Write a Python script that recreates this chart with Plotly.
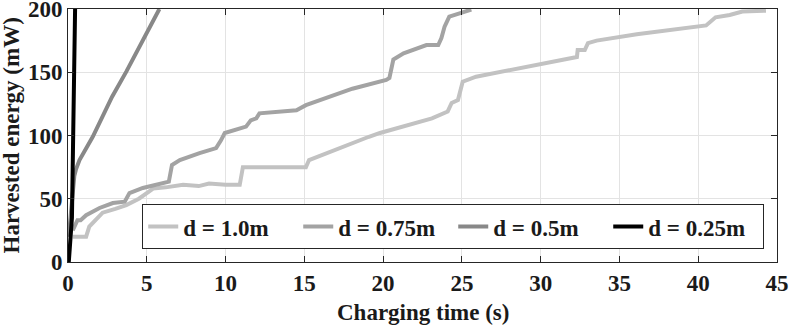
import plotly.graph_objects as go

# Data
x_d100 = [0.3, 1.15, 1.35, 2.2, 3.0, 3.7, 4.5, 5.4, 6.2, 7.3, 8.3, 8.95, 10.0, 10.9, 11.1, 12.2,
          15.1, 15.3, 17.2, 19.1, 19.8, 22.3, 23.1, 24.1, 24.35, 24.75, 25.05, 25.9, 27.6, 30.1,
          32.0, 32.3, 32.35, 32.8, 33.0, 33.55, 36.1, 38.6, 40.5, 41.1, 42.0, 42.8, 44.3]
y_d100 = [20, 20, 28, 39, 42, 45, 50, 58, 59, 61, 60, 62, 61, 61, 75, 75,
          75, 80.6, 90, 99, 102, 111, 113.6, 119, 125.7, 128, 142.5, 146.5, 150.5, 157,
          161, 162, 167.6, 167.6, 173, 175, 180, 184, 187, 193.4, 195.3, 198, 198.7]

x_d075 = [0.3, 0.6, 0.8, 1.15, 2.0, 2.85, 3.6, 3.9, 4.75, 6.2, 6.4, 6.6, 7.1, 8.35, 9.4, 9.7,
          9.95, 11.3, 11.6, 11.95, 12.15, 14.5, 15.1, 18.05, 20.2, 20.4, 20.65, 21.3, 21.9,
          22.75, 23.5, 23.7, 23.9, 24.2, 24.85, 25.6]
y_d075 = [25, 33, 33, 37, 42.7, 46.6, 47.7, 54.5, 58.5, 62.4, 63.5, 76.7, 80.6, 86, 90, 96,
          102, 107, 112, 113.6, 117.5, 120, 124, 137, 144, 145.5, 160, 165, 167.6,
          171.5, 171.5, 177, 186, 194, 196.6, 199.5]

x_d050 = [0.05, 0.2, 0.4, 0.5, 0.73, 1.57, 2.8, 3.7, 4.95, 5.8]
y_d050 = [20, 45, 68, 73, 80.6, 99, 130.7, 150.5, 180.7, 200]

x_d025 = [0.05, 0.2, 0.25, 0.45]
y_d025 = [0, 30, 35, 200]

names = ["d = 1.0m", "d = 0.75m", "d = 0.5m", "d = 0.25m"]
colors = ["#c2c2c2", "#a3a3a3", "#888888", "#000000"]

x_ticks = [0, 5, 10, 15, 20, 25, 30, 35, 40, 45]
y_ticks = [0, 50, 100, 150, 200]

series = [(x_d100, y_d100), (x_d075, y_d075), (x_d050, y_d050), (x_d025, y_d025)]

fig = go.Figure()
for (xs, ys), nm, c in zip(series, names, colors):
    fig.add_trace(go.Scatter(x=xs, y=ys, mode="lines", name="<b>" + nm + "</b>",
                             line=dict(color=c, width=4)))

FONT = "Times New Roman"
TXT = dict(family=FONT, size=23, color="#1a1a1a")
axis_common = dict(showline=True, linecolor="#262626", linewidth=1, mirror="allticks",
                   ticks="inside", ticklen=6, tickcolor="#262626",
                   showgrid=True, gridcolor="#e3e3e3", gridwidth=1, zeroline=False,
                   automargin=False, ticklabeloverflow="allow",
                   tickfont=TXT)

fig.update_xaxes(range=[0, 45], tickvals=x_ticks,
                 ticktext=["<b>%d</b>" % v for v in x_ticks], **axis_common)
fig.update_yaxes(range=[0, 200], tickvals=y_ticks,
                 ticktext=["<b>%d</b>" % v for v in y_ticks], **axis_common)

fig.update_layout(
    width=789, height=327,
    margin=dict(l=68, r=12, t=9, b=65, autoexpand=False),
    plot_bgcolor="white", paper_bgcolor="white",
    font=TXT,
    legend=dict(orientation="h", x=0.982, y=0.051, xanchor="right", yanchor="bottom",
                bgcolor="white", bordercolor="#262626", borderwidth=1,
                entrywidth=110, entrywidthmode="pixels",
                font=TXT, tracegroupgap=0),
    annotations=[
        dict(text="<b>Charging time (s)</b>", xref="paper", yref="paper", x=0.5, y=-0.2,
             xanchor="center", yanchor="middle", showarrow=False, font=TXT),
        dict(text="<b>Harvested energy (mW)</b>", xref="paper", yref="paper", x=-0.079, y=0.5,
             xanchor="center", yanchor="middle", textangle=-90, showarrow=False, font=TXT),
    ],
)

fig.write_html("out.html", config={"displayModeBar": False},
               post_script="document.body.style.margin='0';")
